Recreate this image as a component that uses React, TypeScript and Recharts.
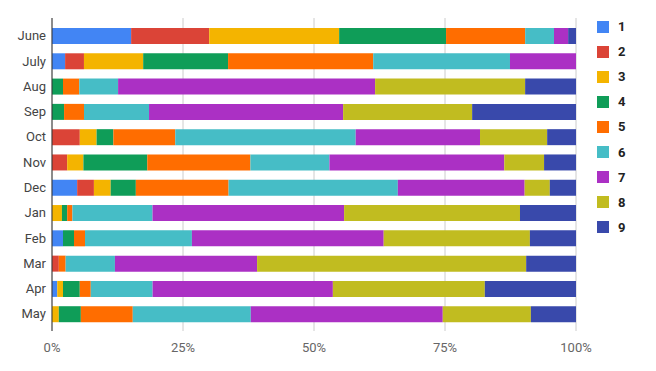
import { Bar, BarChart, CartesianGrid, XAxis, YAxis } from "recharts";

const months = ["June", "July", "Aug", "Sep", "Oct", "Nov", "Dec", "Jan", "Feb", "Mar", "Apr", "May"];

const s1 = [15.1, 2.5, 0, 0, 0, 0, 4.8, 0, 2.1, 0, 1.0, 0];
const s2 = [14.9, 3.6, 0, 0, 5.3, 2.9, 3.2, 0, 0, 1.3, 0, 0];
const s3 = [24.8, 11.3, 0, 0, 3.2, 3.1, 3.2, 1.9, 0, 0, 1.1, 1.3];
const s4 = [20.4, 16.2, 2.1, 2.3, 3.2, 12.2, 4.8, 1.0, 2.1, 0, 3.2, 4.2];
const s5 = [15.1, 27.7, 3.1, 3.8, 11.8, 19.7, 17.7, 1.0, 2.1, 1.3, 2.1, 9.9];
const s6 = [5.5, 26.1, 7.4, 12.4, 34.4, 15.1, 32.3, 15.3, 20.4, 9.4, 11.8, 22.5];
const s7 = [2.7, 12.6, 49.0, 37.0, 23.7, 33.4, 24.2, 36.6, 36.6, 27.1, 34.4, 36.6];
const s8 = [0, 0, 28.6, 24.6, 12.8, 7.6, 4.8, 33.6, 27.9, 51.3, 29.0, 16.8];
const s9 = [1.5, 0, 9.7, 19.8, 5.5, 6.1, 5.0, 10.7, 8.8, 9.5, 17.4, 8.6];

const seriesNames = ["1", "2", "3", "4", "5", "6", "7", "8", "9"];
const seriesValues = [s1, s2, s3, s4, s5, s6, s7, s8, s9];
const colors = [
  "#4285f4", "#db4437", "#f4b400", "#0f9d58", "#ff6d00",
  "#46bdc6", "#ab30c4", "#c1bc20", "#3949ab",
];
const xTicks = [0, 0.25, 0.5, 0.75, 1];

const data = months.map((m, i) => {
  const row: Record<string, string | number> = { month: m };
  seriesNames.forEach((n, j) => {
    row[n] = seriesValues[j][i];
  });
  return row;
});

const font = "Roboto, Arial, sans-serif";

function LegendList() {
  return (
    <div style={{ position: "absolute", left: 597, top: 14, fontFamily: font }}>
      {seriesNames.map((n, i) => (
        <div key={n} style={{ display: "flex", alignItems: "center", height: 25.1 }}>
          <div style={{ width: 12, height: 12, background: colors[i], marginRight: 9 }} />
          <span style={{ fontSize: 13, fontWeight: "bold", color: "#222" }}>{n}</span>
        </div>
      ))}
    </div>
  );
}

export default function App() {
  return (
    <div style={{ position: "absolute", left: 0, top: 0, width: 656, height: 371, background: "#fff" }}>
      <BarChart
        width={656}
        height={371}
        data={data}
        layout="vertical"
        stackOffset="expand"
        margin={{ top: 18, right: 80, left: 0, bottom: 12 }}
      >
        <CartesianGrid horizontal={false} stroke="#cccccc" />
        <XAxis
          type="number"
          domain={[0, 1]}
          ticks={xTicks}
          tickFormatter={(v) => `${Math.round(v * 100)}%`}
          axisLine={false}
          tickLine={false}
          tickSize={0}
          tickMargin={12}
          height={28}
          tick={{ fontSize: 13, fill: "#666", fontFamily: font }}
        />
        <YAxis
          type="category"
          dataKey="month"
          width={52}
          axisLine={{ stroke: "#333" }}
          tickLine={false}
          tickSize={0}
          tickMargin={6}
          padding={{ top: 5, bottom: 4.5 }}
          interval={0}
          tick={{ fontSize: 13, fill: "#444", fontFamily: font }}
        />
        {seriesNames.map((n, i) => (
          <Bar
            key={n}
            dataKey={n}
            stackId="a"
            fill={colors[i]}
            barSize={16}
            isAnimationActive={false}
          />
        ))}
      </BarChart>
      <LegendList />
    </div>
  );
}
